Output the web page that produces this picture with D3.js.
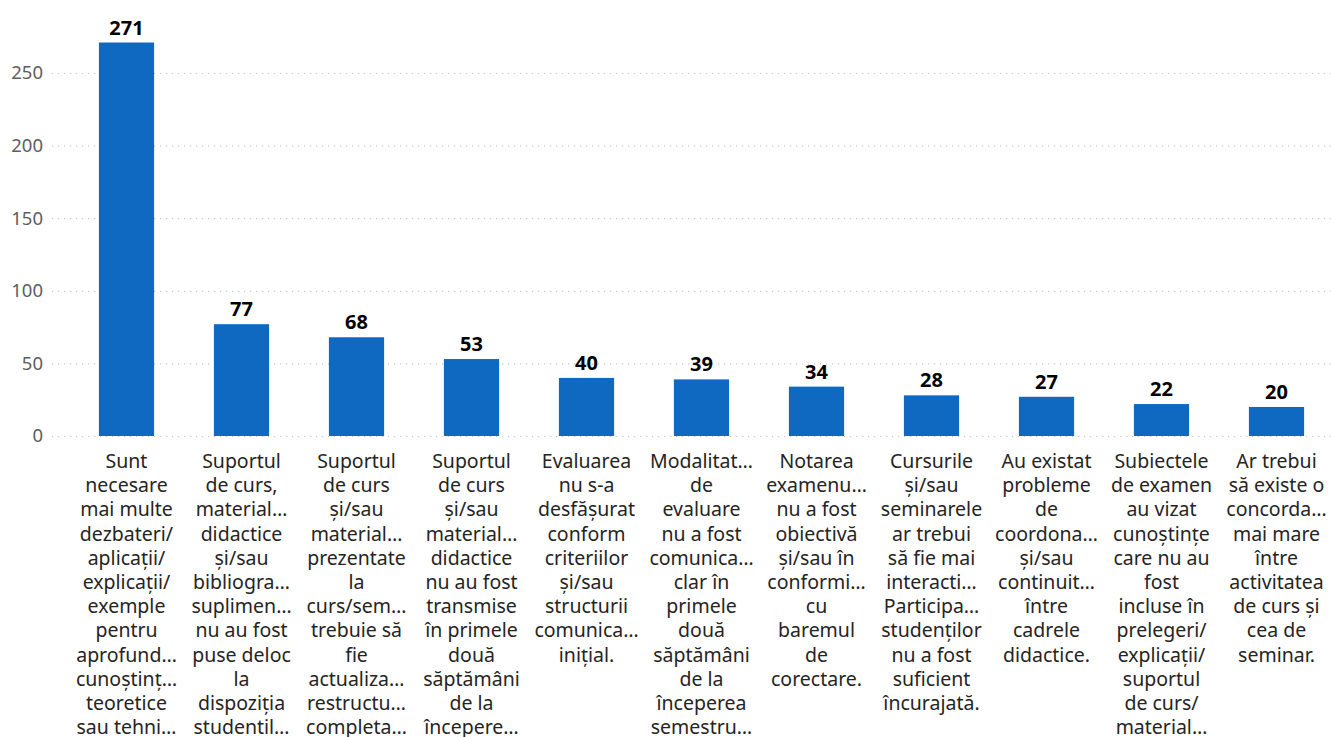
<!DOCTYPE html>
<html>
<head>
<meta charset="utf-8">
<script src="https://cdnjs.cloudflare.com/ajax/libs/d3/7.8.5/d3.min.js"></script>
<style>
  html, body { margin: 0; padding: 0; background: #fff; overflow: hidden; }
  svg { display: block; }
</style>
</head>
<body>
<script>
// chart data
var values = [271, 77, 68, 53, 40, 39, 34, 28, 27, 22, 20];
var labelLines = [
  ["Sunt", "necesare", "mai multe", "dezbateri/", "aplicații/", "explicații/", "exemple", "pentru", "aprofund…", "cunoștinț…", "teoretice", "sau tehni…"],
  ["Suportul", "de curs,", "material…", "didactice", "și/sau", "bibliogra…", "suplimen…", "nu au fost", "puse deloc", "la", "dispoziția", "studentil…"],
  ["Suportul", "de curs", "și/sau", "material…", "prezentate", "la", "curs/sem…", "trebuie să", "fie", "actualiza…", "restructu…", "completa…"],
  ["Suportul", "de curs", "și/sau", "material…", "didactice", "nu au fost", "transmise", "în primele", "două", "săptămâni", "de la", "începere…"],
  ["Evaluarea", "nu s-a", "desfășurat", "conform", "criteriilor", "și/sau", "structurii", "comunica…", "inițial."],
  ["Modalitat…", "de", "evaluare", "nu a fost", "comunica…", "clar în", "primele", "două", "săptămâni", "de la", "începerea", "semestru…"],
  ["Notarea", "examenu…", "nu a fost", "obiectivă", "și/sau în", "conformi…", "cu", "baremul", "de", "corectare."],
  ["Cursurile", "și/sau", "seminarele", "ar trebui", "să fie mai", "interacti…", "Participa…", "studenților", "nu a fost", "suficient", "încurajată."],
  ["Au existat", "probleme", "de", "coordona…", "și/sau", "continuit…", "între", "cadrele", "didactice."],
  ["Subiectele", "de examen", "au vizat", "cunoștințe", "care nu au", "fost", "incluse în", "prelegeri/", "explicații/", "suportul", "de curs/", "material…"],
  ["Ar trebui", "să existe o", "concorda…", "mai mare", "între", "activitatea", "de curs și", "cea de", "seminar."]
];
var yTicks = [0, 50, 100, 150, 200, 250];

var W = 1331, H = 737;
var svg = d3.select("body").append("svg").attr("width", W).attr("height", H);
var font = "'Noto Sans', 'Open Sans', sans-serif";

var idx = d3.range(values.length);
var x = d3.scaleBand().domain(idx).range([69, 1334]).paddingInner(0.52).paddingOuter(0.26);
var y = d3.scaleLinear().domain([0, 250]).range([436, 73]);

// gridlines + y labels
var yAxis = svg.append("g").attr("transform", "translate(52,0)")
  .call(d3.axisLeft(y).tickValues(yTicks).tickSize(-(W - 52)).tickPadding(9));
yAxis.select(".domain").remove();
yAxis.selectAll(".tick line")
  .attr("stroke", "#c8c6c4").attr("stroke-width", 1.2).attr("stroke-dasharray", "1.2,4.8");
yAxis.selectAll(".tick text")
  .attr("fill", "#605e5c").style("font-family", font).style("font-size", "18.5px");

// bars
svg.selectAll("rect.bar").data(values).enter().append("rect")
  .attr("class", "bar")
  .attr("x", function(d, i){ return x(i); })
  .attr("y", function(d){ return y(d); })
  .attr("width", x.bandwidth())
  .attr("height", function(d){ return y(0) - y(d); })
  .attr("fill", "#1069c0");

// value labels
svg.selectAll("text.val").data(values).enter().append("text")
  .attr("class", "val")
  .attr("x", function(d, i){ return x(i) + x.bandwidth() / 2; })
  .attr("y", function(d){ return y(d) - 8; })
  .attr("text-anchor", "middle")
  .style("font-family", font).style("font-size", "20px").style("font-weight", "bold")
  .attr("fill", "#000")
  .text(function(d){ return d; });

// category labels, already wrapped like the picture
var cats = svg.selectAll("text.cat").data(labelLines).enter().append("text")
  .attr("class", "cat")
  .attr("text-anchor", "middle")
  .style("font-family", font).style("font-size", "19.5px")
  .attr("fill", "#252423");
cats.each(function(lines, i){
  var t = d3.select(this);
  lines.forEach(function(line, k){
    t.append("tspan")
      .attr("x", x(i) + x.bandwidth() / 2)
      .attr("y", 468 + k * 24.2)
      .text(line);
  });
});
</script>
</body>
</html>
